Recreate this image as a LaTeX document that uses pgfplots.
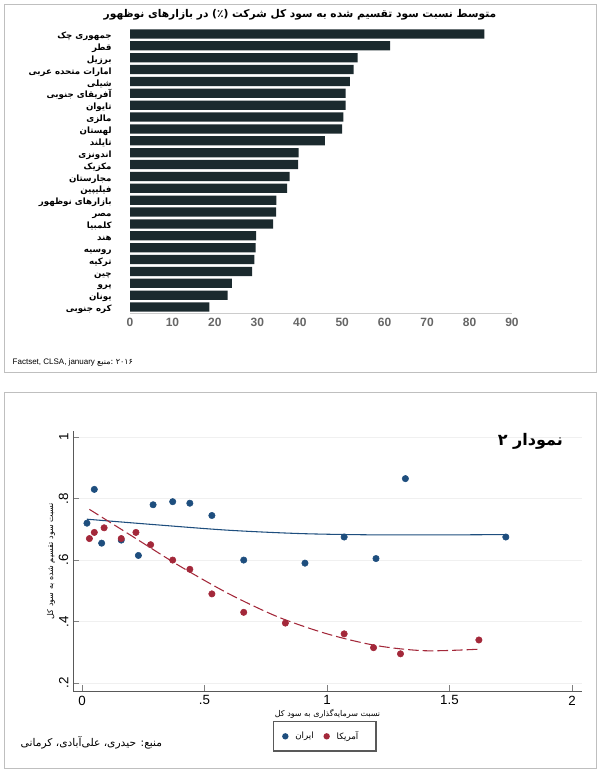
\documentclass[border=0pt]{standalone}
\usepackage{pgfplots}
\pgfplotsset{compat=1.18}
\usepackage{fontspec}
\setmainfont{Liberation Sans}
\newfontfamily\fa[Script=Arabic]{DejaVu Sans}
\TeXXeTstate=1
\newcommand{\R}[1]{{\fa\beginR #1\endR}}
\definecolor{barc}{HTML}{1B2A2E}
\definecolor{ir}{HTML}{1E4E7E}
\definecolor{us}{HTML}{A3283A}
\begin{document}
\begin{tikzpicture}
\path[use as bounding box] (0,0) rectangle (450pt,581.25pt);
\draw[gray!50] (3pt,302pt) rectangle (447pt,578pt);
\draw[gray!50] (3pt,5pt) rectangle (447pt,287pt);
% top chart
\begin{axis}[at={(97.5pt,346.5pt)},anchor=south west,scale only axis,
 width=286.5pt,height=213.75pt,
 xbar,bar width=6.9pt,xmin=0,xmax=90,ymin=0.5,ymax=24.5,
 axis x line*=bottom,axis y line*=left,y axis line style={draw=none},x axis line style={gray!40},
 xtick={0,10,...,90},tick style={draw=none},
 xticklabel style={font=\small\bfseries,text=gray!80!black},
 /pgf/number format/assume math mode=true,
 ytick={1,...,24},
 yticklabels={\R{کره جنوبی},\R{یونان},\R{پرو},\R{چین},\R{ترکیه},\R{روسیه},\R{هند},\R{کلمبیا},\R{مصر},\R{بازارهای نوظهور},\R{فیلیپین},\R{مجارستان},\R{مکزیک},\R{اندونزی},\R{تایلند},\R{لهستان},\R{مالزی},\R{تایوان},\R{آفریقای جنوبی},\R{شیلی},\R{امارات متحده عربی},\R{برزیل},\R{قطر},\R{جمهوری چک}},
 yticklabel style={font=\fontsize{6.5}{7}\selectfont\bfseries,anchor=east,text height=5pt,text depth=2pt,inner ysep=0pt,xshift=-6pt,yshift=-2pt},
 clip=false]
\addplot[fill=barc,draw=none] coordinates {
(18.7,1)(23.0,2)(24.0,3)(28.8,4)(29.3,5)(29.6,6)(29.7,7)(33.7,8)(34.4,9)(34.5,10)
(37.0,11)(37.6,12)(39.6,13)(39.7,14)(45.9,15)(50.0,16)(50.3,17)(50.8,18)(50.8,19)
(51.8,20)(52.7,21)(53.6,22)(61.3,23)(83.5,24)};
\end{axis}
\node[font=\fontsize{8}{9}\selectfont\bfseries] at (225pt,570pt) {\R{متوسط نسبت سود تقسیم شده به سود کل شرکت (٪) در بازارهای نوظهور}};
\node[anchor=west,font=\fontsize{6}{7}\selectfont] at (6pt,309pt) {Factset, CLSA, january \R{۲۰۱۶ :منبع}};
% bottom chart
\begin{axis}[at={(54.75pt,63pt)},anchor=south west,scale only axis,
 width=381.75pt,height=195pt,
 xmin=-0.037,xmax=2.041,ymin=0.174,ymax=1.02,
 axis x line*=bottom,axis y line*=left,axis line style={gray!70!black},
 xtick={0,0.5,1,1.5,2},xticklabels={0,.5,1,1.5,2},
 ytick={0.2,0.4,0.6,0.8,1},yticklabels={.2,.4,.6,.8,1},
 ymajorgrids,grid style={gray!12},
 yticklabel style={rotate=90},
 ticklabel style={font=\normalsize},
 /pgf/number format/assume math mode=true,
 xlabel={\R{نسبت سرمایه‌گذاری به سود کل}},ylabel={\R{نسبت سود تقسیم شده به سود کل}},
 xlabel style={font=\fontsize{6}{7}\selectfont,yshift=4pt},
 ylabel style={font=\fontsize{6}{7}\selectfont,yshift=-4pt},
 clip=false]
\addplot[ir,thick,smooth] coordinates {(0.02,0.733)(0.3,0.715)(0.6,0.697)(0.9,0.686)(1.2,0.682)(1.5,0.682)(1.73,0.683)};
\addplot[us,thick,dashed,dash pattern=on 8pt off 3pt,smooth] coordinates {(0.03,0.765)(0.2,0.68)(0.4,0.58)(0.6,0.49)(0.8,0.415)(1.0,0.36)(1.2,0.322)(1.4,0.305)(1.62,0.31)};
\addplot[only marks,mark=*,mark size=2.4pt,ir] coordinates {(0.02,0.72)(0.05,0.83)(0.08,0.655)(0.16,0.665)(0.23,0.615)(0.29,0.78)(0.37,0.79)(0.44,0.785)(0.53,0.745)(0.66,0.60)(0.91,0.59)(1.07,0.675)(1.20,0.605)(1.32,0.865)(1.73,0.675)};
\addplot[only marks,mark=*,mark size=2.4pt,us] coordinates {(0.03,0.67)(0.05,0.69)(0.09,0.705)(0.16,0.67)(0.22,0.69)(0.28,0.65)(0.37,0.60)(0.44,0.57)(0.53,0.49)(0.66,0.43)(0.83,0.395)(1.07,0.36)(1.19,0.315)(1.30,0.295)(1.62,0.34)};
\node[font=\large\bfseries] at (axis cs:1.83,0.985) {\R{نمودار ۲}};
\end{axis}
\draw[thick,gray!70!black] (205pt,18pt) rectangle (282pt,40pt);
\fill[ir] (214pt,29pt) circle (2.4pt);
\node[anchor=west,font=\fontsize{6.5}{7}\selectfont] at (218pt,29pt) {\R{ایران}};
\fill[us] (245pt,29pt) circle (2.4pt);
\node[anchor=west,font=\fontsize{6.5}{7}\selectfont] at (249pt,29pt) {\R{آمریکا}};
\node[anchor=west,font=\fontsize{8}{9}\selectfont] at (12pt,24pt) {\R{منبع: حیدری، علی‌آبادی، کرمانی}};
\end{tikzpicture}
\end{document}
